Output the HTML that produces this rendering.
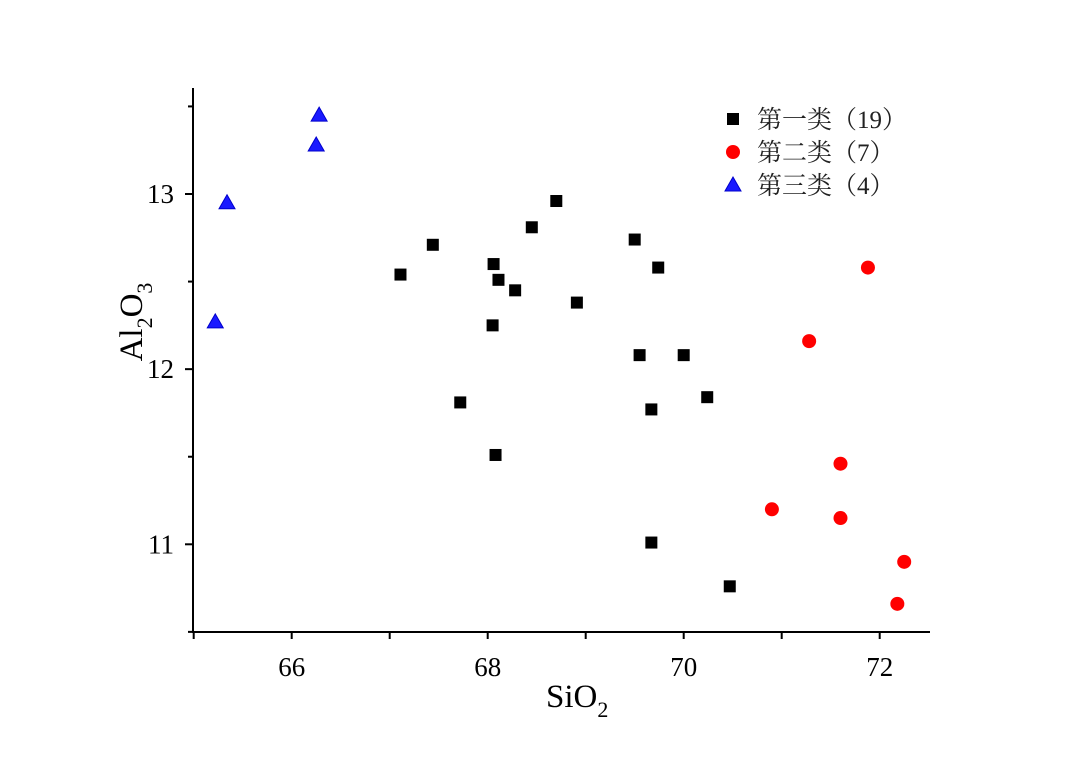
<!DOCTYPE html>
<html><head><meta charset="utf-8"><style>body{margin:0;background:#fff}svg{display:block}text{font-family:"Liberation Serif","Noto Serif CJK SC",serif}</style></head>
<body>
<svg id="chart" width="1080" height="758" viewBox="0 0 1080 758"></svg>
<script>
const xTicks=[66,68,70,72];
const yTicks=[11,12,13];
const blackX=[67.11,67.44,67.72,68.06,68.11,68.05,68.28,68.45,68.70,68.91,68.08,69.50,69.74,69.55,70.0,69.67,70.24,69.67,70.47];
const blackY=[12.54,12.71,11.81,12.60,12.51,12.25,12.45,12.81,12.96,12.38,11.51,12.74,12.58,12.08,12.08,11.77,11.84,11.01,10.76];
const redX=[71.28,71.88,70.90,71.6,71.6,72.25,72.18];
const redY=[12.16,12.58,11.20,11.46,11.15,10.90,10.66];
const blueX=[66.28,66.25,65.34,65.22];
const blueY=[13.45,13.28,12.95,12.27];
const legendLabels=["第一类（19）","第二类（7）","第三类（4）"];
const NS="http://www.w3.org/2000/svg",svg=document.getElementById('chart');
const X=v=>193.7+(v-65)*98, Y=v=>544.3-(v-11)*175.15;
function el(t,a,p){const e=document.createElementNS(NS,t);for(const k in a)e.setAttribute(k,a[k]);(p||svg).appendChild(e);return e;}
let ax=el('path',{d:'M193,88V632H930',fill:'none',stroke:'#000','stroke-width':2});


for(let v=65;v<=72;v+=1){const l=el('line',{x1:X(v),x2:X(v),y1:632,y2:639,stroke:'#000','stroke-width':2});

}
xTicks.forEach(v=>{const t=el('text',{x:X(v),y:676,'font-size':27,'text-anchor':'middle'});t.textContent=v;

});
for(let v=10.5;v<=13.5;v+=0.5){const l=el('line',{x1:Math.abs(v-Math.round(v))<1e-9?185:188,x2:193,y1:Y(v),y2:Y(v),stroke:'#000','stroke-width':2});

}
yTicks.forEach(v=>{const t=el('text',{x:174,y:Y(v)+9,'font-size':27,'text-anchor':'end'});t.textContent=v;

});
let xt=el('text',{x:546,y:707,'font-size':33});xt.innerHTML='SiO<tspan font-size="22" dy="10">2</tspan>';


let yt=el('text',{transform:'translate(142,322) rotate(-90)','font-size':33,'text-anchor':'middle'});yt.innerHTML='Al<tspan font-size="22" dy="10">2</tspan><tspan dy="-10">O</tspan><tspan font-size="22" dy="10">3</tspan>';


function sq(cx,cy){return el('rect',{x:cx-6,y:cy-6,width:12,height:12,fill:'#000'});}
function ci(cx,cy){return el('circle',{cx,cy,r:7,fill:'#f00'});}
function tr(cx,cy){return el('path',{d:`M${cx},${cy-8}L${cx+8},${cy+6}L${cx-8},${cy+6}Z`,fill:'#1a1aff',stroke:'#00c','stroke-width':1});}
blackX.forEach((v,i)=>{const m=sq(X(v),Y(blackY[i]));

});
redX.forEach((v,i)=>{const m=ci(X(v),Y(redY[i]));

});
blueX.forEach((v,i)=>{const m=tr(X(v),Y(blueY[i]));

});
const mk=[sq,ci,tr];
legendLabels.forEach((s,i)=>{const cy=119+i*33;const m=mk[i](733,cy);


const t=el('text',{x:757,y:cy+9,'font-size':25,fill:'#222'});t.textContent=s;

});
</script>
</body></html>
